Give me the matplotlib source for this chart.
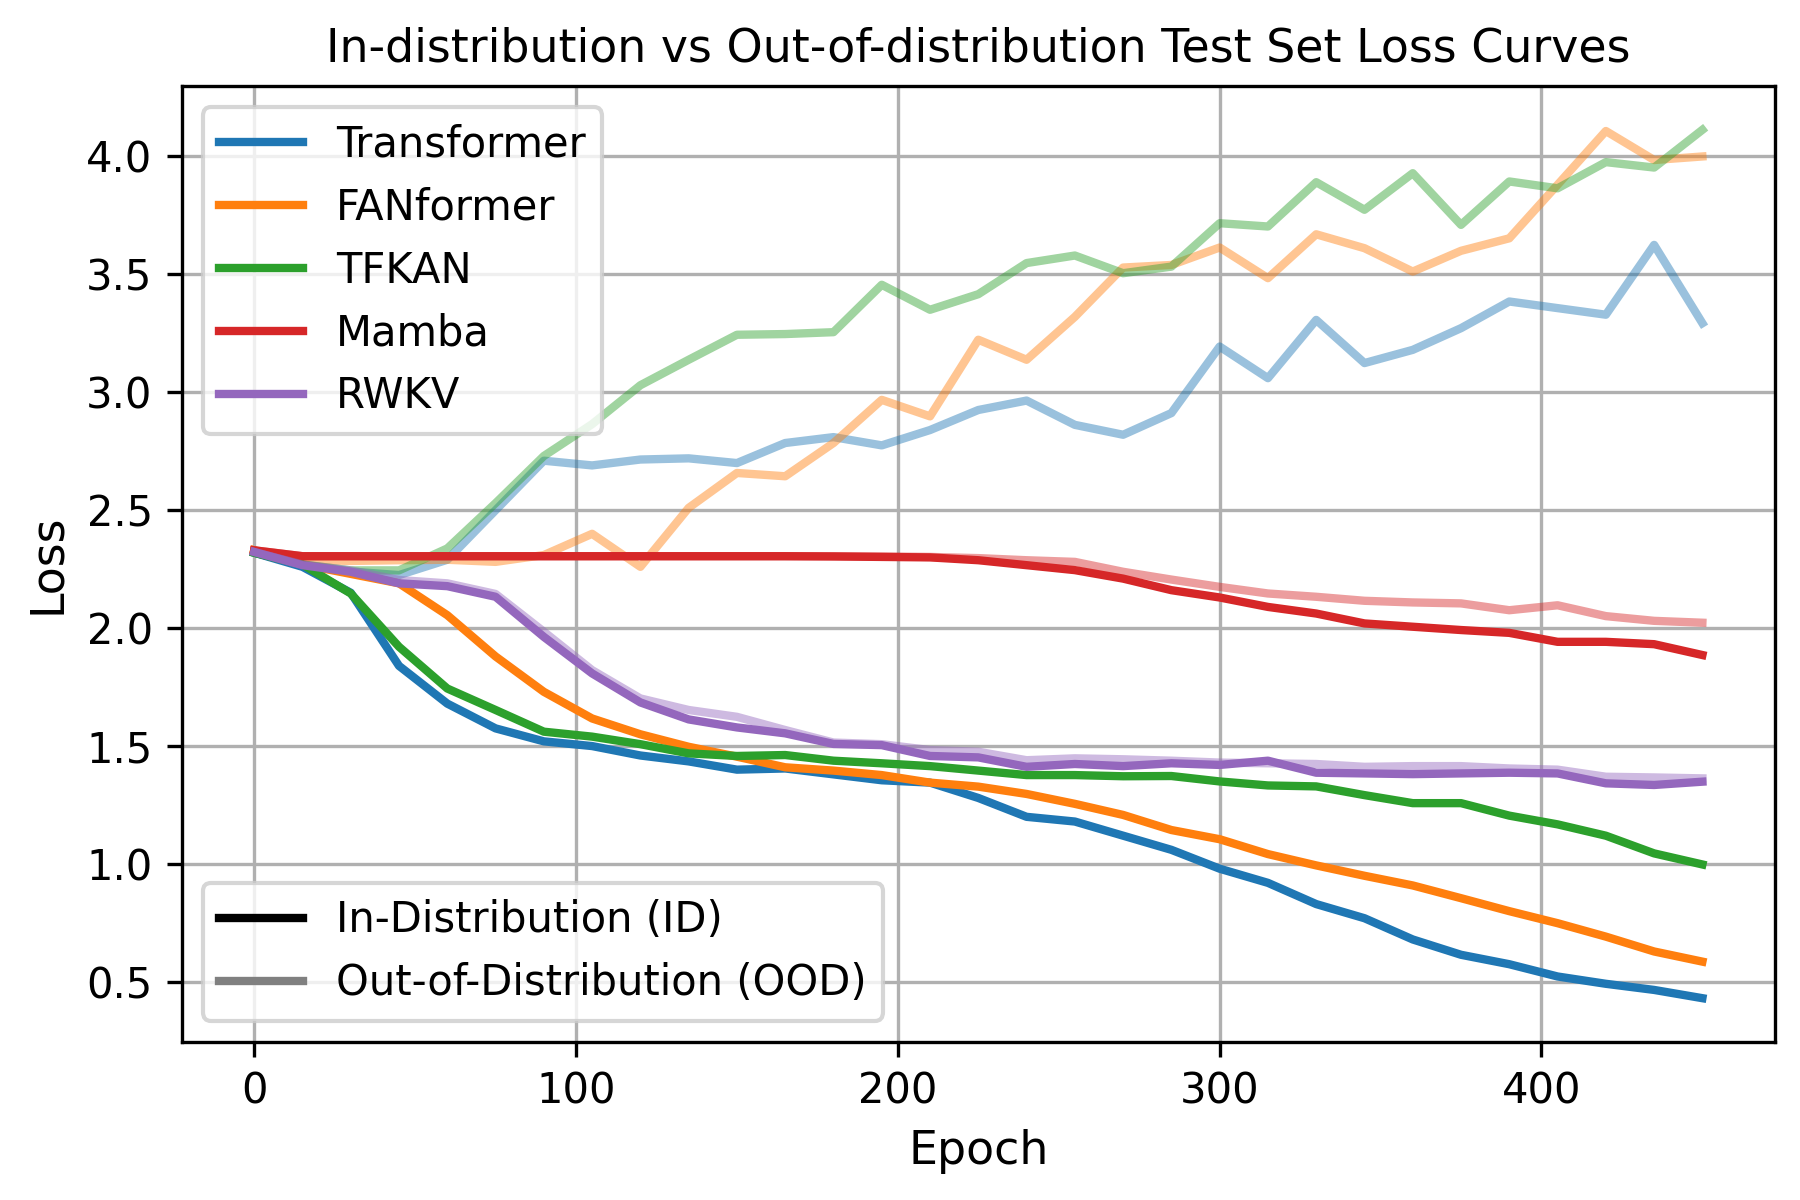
import matplotlib
matplotlib.use("Agg")
import matplotlib.pyplot as plt
from matplotlib.lines import Line2D

epochs = list(range(0, 451, 15))

models = ["Transformer", "FANformer", "TFKAN", "Mamba", "RWKV"]
colors = ["tab:blue", "tab:orange", "tab:green", "tab:red", "tab:purple"]

transformer_id = [2.32, 2.26, 2.15, 1.84, 1.68, 1.575, 1.52, 1.50, 1.46, 1.435, 1.40,
                  1.405, 1.38, 1.355, 1.345, 1.28, 1.20, 1.18, 1.12, 1.06, 0.98,
                  0.92, 0.83, 0.77, 0.68, 0.615, 0.575, 0.523, 0.492, 0.466, 0.431]
transformer_ood = [2.32, 2.27, 2.24, 2.225, 2.29, 2.50, 2.71, 2.69, 2.715, 2.72, 2.70,
                   2.785, 2.81, 2.775, 2.84, 2.925, 2.965, 2.862, 2.82, 2.912, 3.194,
                   3.06, 3.307, 3.124, 3.18, 3.272, 3.385, 3.357, 3.329, 3.625, 3.293]

fanformer_id = [2.33, 2.27, 2.23, 2.19, 2.055, 1.88, 1.73, 1.617, 1.55, 1.497, 1.455,
                1.41, 1.396, 1.377, 1.345, 1.328, 1.297, 1.255, 1.208, 1.144, 1.105,
                1.042, 0.994, 0.95, 0.909, 0.855, 0.80, 0.749, 0.692, 0.629, 0.586]
fanformer_ood = [2.33, 2.29, 2.285, 2.288, 2.29, 2.281, 2.31, 2.40, 2.26, 2.51, 2.658,
                 2.644, 2.785, 2.968, 2.898, 3.223, 3.138, 3.32, 3.529, 3.54, 3.614,
                 3.484, 3.67, 3.611, 3.512, 3.60, 3.653, 3.88, 4.108, 3.985, 4.0]

tfkan_id = [2.32, 2.27, 2.147, 1.921, 1.744, 1.653, 1.561, 1.54, 1.508, 1.469, 1.458,
            1.462, 1.438, 1.427, 1.415, 1.396, 1.377, 1.377, 1.372, 1.373, 1.35,
            1.333, 1.329, 1.292, 1.258, 1.258, 1.205, 1.168, 1.12, 1.045, 0.998]
tfkan_ood = [2.32, 2.27, 2.245, 2.245, 2.338, 2.53, 2.73, 2.865, 3.03, 3.138, 3.244,
             3.247, 3.255, 3.456, 3.35, 3.416, 3.548, 3.58, 3.505, 3.533, 3.717,
             3.703, 3.891, 3.774, 3.929, 3.71, 3.894, 3.865, 3.976, 3.953, 4.113]

mamba_id = [2.33, 2.305, 2.305, 2.305, 2.305, 2.305, 2.305, 2.305, 2.305, 2.305, 2.305,
            2.305, 2.304, 2.302, 2.30, 2.288, 2.267, 2.246, 2.21, 2.161, 2.13,
            2.09, 2.062, 2.02, 2.006, 1.992, 1.98, 1.942, 1.942, 1.932, 1.886]
mamba_ood = [2.33, 2.305, 2.305, 2.305, 2.305, 2.305, 2.305, 2.305, 2.305, 2.305, 2.305,
             2.305, 2.305, 2.304, 2.302, 2.297, 2.288, 2.281, 2.239, 2.206, 2.175,
             2.147, 2.133, 2.116, 2.109, 2.105, 2.076, 2.097, 2.051, 2.031, 2.023]

rwkv_id = [2.323, 2.267, 2.239, 2.19, 2.178, 2.133, 1.963, 1.808, 1.685, 1.613, 1.579,
           1.554, 1.509, 1.504, 1.458, 1.452, 1.412, 1.424, 1.415, 1.427, 1.42,
           1.438, 1.387, 1.384, 1.381, 1.384, 1.387, 1.384, 1.342, 1.335, 1.349]
rwkv_ood = [2.323, 2.27, 2.245, 2.204, 2.19, 2.145, 1.985, 1.822, 1.702, 1.653, 1.624,
            1.568, 1.515, 1.508, 1.483, 1.476, 1.44, 1.448, 1.444, 1.438, 1.43,
            1.427, 1.424, 1.412, 1.415, 1.415, 1.405, 1.40, 1.37, 1.367, 1.363]

id_series = [transformer_id, fanformer_id, tfkan_id, mamba_id, rwkv_id]
ood_series = [transformer_ood, fanformer_ood, tfkan_ood, mamba_ood, rwkv_ood]

fig, ax = plt.subplots(figsize=(6, 4), dpi=300)
fig.subplots_adjust(left=0.101, right=0.986, top=0.928, bottom=0.132)

handles = []
for name, c, yid, yood in zip(models, colors, id_series, ood_series):
    h, = ax.plot(epochs, yid, color=c, lw=2, label=name)
    ax.plot(epochs, yood, color=c, lw=2, alpha=0.45)
    handles.append(h)

ax.set_title("In-distribution vs Out-of-distribution Test Set Loss Curves", fontsize=11)
ax.set_xlabel("Epoch", fontsize=11)
ax.set_ylabel("Loss", fontsize=11)
ax.grid(True)

leg1 = ax.legend(handles=handles, loc="upper left", fontsize=10)
ax.add_artist(leg1)
style_handles = [Line2D([0], [0], color="black", lw=2),
                 Line2D([0], [0], color="gray", lw=2)]
ax.legend(style_handles, ["In-Distribution (ID)", "Out-of-Distribution (OOD)"],
          loc="lower left", fontsize=10)

fig.savefig("out.png", dpi=300)
